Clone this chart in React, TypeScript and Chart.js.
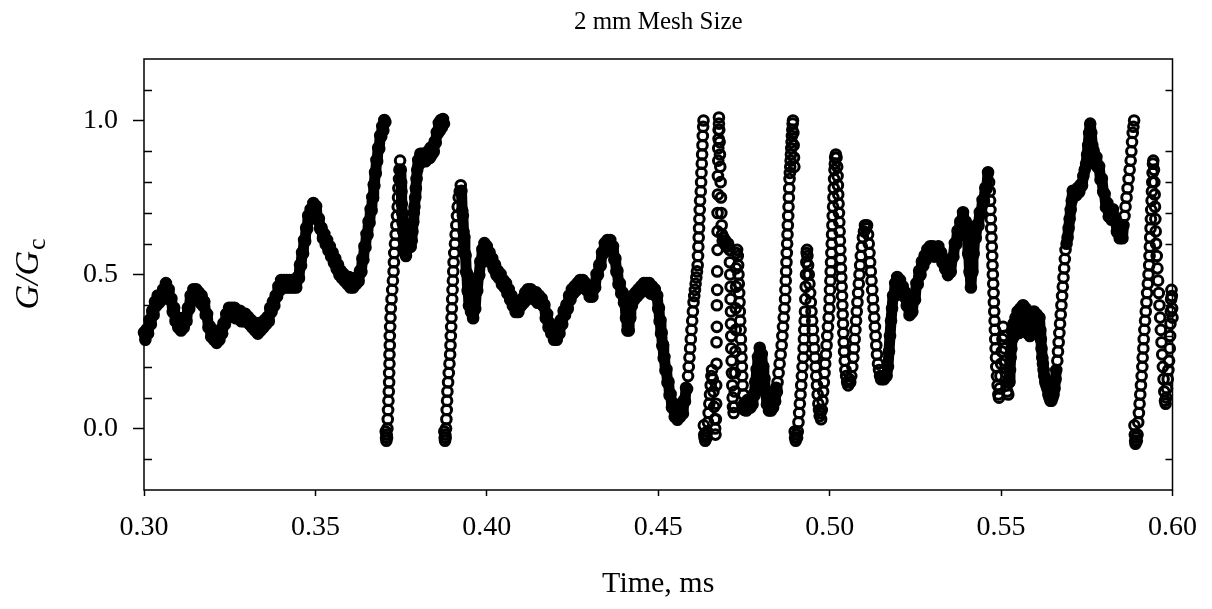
import React, { useEffect, useRef } from "react";
import { Chart, registerables } from "chart.js";

Chart.register(...registerables);

type Pt = [number, number];

// Time (ms) vs G/Gc, segment by segment (noisy bands)
const BAND_A: Pt[] = [[0.3000,0.312],[0.3004,0.288],[0.3008,0.322],[0.3012,0.308],[0.3016,0.352],[0.3020,0.338],[0.3024,0.382],[0.3028,0.368],[0.3032,0.412],[0.3036,0.398],[0.3040,0.432],[0.3044,0.408],[0.3048,0.432],[0.3052,0.418],[0.3056,0.452],[0.3060,0.438],[0.3064,0.472],[0.3068,0.438],[0.3072,0.452],[0.3076,0.418],[0.3080,0.422],[0.3084,0.378],[0.3088,0.392],[0.3092,0.348],[0.3096,0.362],[0.3100,0.328],[0.3104,0.342],[0.3108,0.318],[0.3112,0.352],[0.3116,0.328],[0.3120,0.362],[0.3124,0.348],[0.3128,0.392],[0.3132,0.388],[0.3136,0.432],[0.3140,0.418],[0.3144,0.452],[0.3148,0.428],[0.3152,0.452],[0.3156,0.418],[0.3160,0.442],[0.3164,0.408],[0.3168,0.432],[0.3172,0.398],[0.3176,0.412],[0.3180,0.368],[0.3184,0.372],[0.3188,0.328],[0.3192,0.332],[0.3196,0.298],[0.3200,0.312],[0.3204,0.288],[0.3208,0.312],[0.3212,0.278],[0.3216,0.312],[0.3220,0.288],[0.3224,0.322],[0.3228,0.308],[0.3232,0.342],[0.3236,0.338],[0.3240,0.372],[0.3244,0.358],[0.3248,0.392],[0.3252,0.368],[0.3256,0.392],[0.3260,0.368],[0.3264,0.392],[0.3268,0.358],[0.3272,0.382],[0.3276,0.358],[0.3280,0.382],[0.3284,0.348],[0.3288,0.372],[0.3292,0.348],[0.3296,0.372],[0.3300,0.348],[0.3304,0.362],[0.3308,0.338],[0.3312,0.352],[0.3316,0.328],[0.3320,0.342],[0.3324,0.318],[0.3328,0.342],[0.3332,0.308],[0.3336,0.342],[0.3340,0.318],[0.3344,0.342],[0.3348,0.328],[0.3352,0.352],[0.3356,0.338],[0.3360,0.362],[0.3364,0.348],[0.3368,0.392],[0.3372,0.378],[0.3376,0.412],[0.3380,0.398],[0.3384,0.432],[0.3388,0.428],[0.3392,0.462],[0.3396,0.448],[0.3400,0.482],[0.3404,0.458],[0.3408,0.482],[0.3412,0.458],[0.3416,0.482],[0.3420,0.458],[0.3424,0.482],[0.3428,0.458],[0.3432,0.482],[0.3436,0.458],[0.3440,0.482],[0.3444,0.458],[0.3448,0.492],[0.3452,0.488],[0.3455,0.532],[0.3458,0.528],[0.3461,0.572],[0.3464,0.568],[0.3467,0.612],[0.3470,0.608],[0.3473,0.652],[0.3476,0.648],[0.3479,0.692],[0.3482,0.678],[0.3486,0.712],[0.3490,0.698],[0.3494,0.732],[0.3498,0.708],[0.3502,0.722],[0.3506,0.678],[0.3510,0.682],[0.3514,0.648],[0.3518,0.652],[0.3522,0.618],[0.3526,0.632],[0.3530,0.598],[0.3534,0.612],[0.3538,0.578],[0.3542,0.592],[0.3546,0.558],[0.3550,0.572],[0.3554,0.538],[0.3558,0.552],[0.3562,0.518],[0.3566,0.532],[0.3570,0.498],[0.3574,0.512],[0.3578,0.488],[0.3582,0.502],[0.3586,0.478],[0.3590,0.492],[0.3594,0.468],[0.3598,0.492],[0.3602,0.458],[0.3606,0.482],[0.3610,0.458],[0.3614,0.482],[0.3618,0.468],[0.3622,0.492],[0.3626,0.478],[0.3630,0.512],[0.3634,0.508],[0.3637,0.552],[0.3640,0.548],[0.3643,0.592],[0.3646,0.588],[0.3649,0.632],[0.3652,0.628],[0.3655,0.672],[0.3658,0.668],[0.3661,0.712],[0.3664,0.708],[0.3666,0.752],[0.3668,0.748],[0.3670,0.792],[0.3672,0.788],[0.3674,0.832],[0.3676,0.828],[0.3678,0.872],[0.3680,0.868],[0.3683,0.912],[0.3686,0.908],[0.3689,0.952],[0.3692,0.948],[0.3695,0.982],[0.3698,0.968],[0.3701,1.002],[0.3704,0.995]];

const RISE_1: Pt[] = [[0.3705,-0.01],[0.3706,-0.03],[0.3707,-0.04],[0.3708,-0.02],[0.3709,-0.03],[0.3710,0.00],[0.3711,0.03],[0.3712,0.06],[0.3713,0.09],[0.3714,0.12],[0.3715,0.15],[0.3715,0.18],[0.3716,0.21],[0.3716,0.24],[0.3717,0.27],[0.3717,0.30],[0.3718,0.33],[0.3719,0.36],[0.3720,0.39],[0.3722,0.42],[0.3724,0.45],[0.3726,0.48],[0.3728,0.51],[0.3729,0.54],[0.3730,0.57],[0.3732,0.60],[0.3734,0.63],[0.3736,0.66],[0.3738,0.69],[0.3740,0.72],[0.3741,0.75],[0.3742,0.78],[0.3744,0.81],[0.3745,0.84],[0.3747,0.87]];

const CLUSTER_1: Pt[] = [[0.3749,0.84],[0.3750,0.80],[0.3751,0.77],[0.3752,0.73],[0.3753,0.70],[0.3754,0.67],[0.3756,0.64],[0.3758,0.61],[0.3760,0.59],[0.3762,0.57],[0.3764,0.56],[0.3766,0.58],[0.3768,0.60],[0.3770,0.62],[0.3772,0.63],[0.3775,0.61],[0.3778,0.59],[0.3781,0.61],[0.3783,0.64],[0.3785,0.67],[0.3787,0.70],[0.3789,0.72],[0.3791,0.75],[0.3793,0.78],[0.3795,0.81],[0.3797,0.84],[0.3800,0.872],[0.3803,0.858],[0.3806,0.892],[0.3809,0.868],[0.3812,0.892],[0.3815,0.878],[0.3818,0.892],[0.3821,0.868],[0.3824,0.892],[0.3827,0.878],[0.3830,0.902],[0.3833,0.878],[0.3836,0.912],[0.3839,0.888],[0.3842,0.912],[0.3845,0.898],[0.3848,0.932],[0.3851,0.928],[0.3854,0.962],[0.3857,0.958],[0.3860,0.992],[0.3863,0.968],[0.3866,1.002],[0.3869,0.978],[0.3872,1.005],[0.3875,0.99]];

const RISE_2: Pt[] = [[0.3876,-0.01],[0.3877,-0.03],[0.3878,-0.04],[0.3879,-0.02],[0.3880,-0.03],[0.3881,0.00],[0.3882,0.03],[0.3883,0.06],[0.3884,0.09],[0.3885,0.12],[0.3887,0.15],[0.3889,0.18],[0.3891,0.21],[0.3893,0.24],[0.3894,0.27],[0.3895,0.30],[0.3896,0.33],[0.3897,0.36],[0.3898,0.39],[0.3899,0.42],[0.3900,0.45],[0.3901,0.48],[0.3902,0.51],[0.3903,0.54],[0.3905,0.57],[0.3907,0.60],[0.3909,0.63],[0.3911,0.66],[0.3913,0.69],[0.3915,0.72],[0.3918,0.75],[0.3921,0.77],[0.3924,0.79]];

const BAND_B: Pt[] = [[0.3926,0.772],[0.3928,0.708],[0.3930,0.692],[0.3932,0.638],[0.3934,0.622],[0.3936,0.568],[0.3938,0.562],[0.3940,0.508],[0.3942,0.502],[0.3944,0.448],[0.3946,0.442],[0.3948,0.398],[0.3951,0.412],[0.3954,0.378],[0.3957,0.392],[0.3960,0.358],[0.3963,0.392],[0.3966,0.388],[0.3969,0.442],[0.3972,0.448],[0.3975,0.492],[0.3978,0.498],[0.3981,0.542],[0.3984,0.538],[0.3987,0.582],[0.3990,0.578],[0.3993,0.602],[0.3996,0.578],[0.4000,0.592],[0.4004,0.558],[0.4008,0.572],[0.4012,0.538],[0.4016,0.552],[0.4020,0.518],[0.4024,0.532],[0.4028,0.498],[0.4032,0.512],[0.4036,0.488],[0.4040,0.502],[0.4044,0.468],[0.4048,0.482],[0.4052,0.458],[0.4056,0.472],[0.4060,0.438],[0.4064,0.452],[0.4068,0.418],[0.4072,0.432],[0.4076,0.398],[0.4080,0.412],[0.4084,0.378],[0.4088,0.402],[0.4092,0.378],[0.4096,0.412],[0.4100,0.398],[0.4104,0.422],[0.4108,0.408],[0.4112,0.442],[0.4116,0.418],[0.4120,0.452],[0.4124,0.428],[0.4128,0.452],[0.4132,0.428],[0.4136,0.442],[0.4140,0.418],[0.4144,0.442],[0.4148,0.408],[0.4152,0.432],[0.4156,0.408],[0.4160,0.422],[0.4164,0.398],[0.4168,0.402],[0.4172,0.358],[0.4176,0.372],[0.4180,0.328],[0.4184,0.342],[0.4188,0.308],[0.4192,0.322],[0.4196,0.288],[0.4200,0.312],[0.4204,0.288],[0.4208,0.322],[0.4212,0.308],[0.4216,0.352],[0.4220,0.338],[0.4224,0.382],[0.4228,0.368],[0.4232,0.402],[0.4236,0.388],[0.4240,0.432],[0.4244,0.418],[0.4248,0.452],[0.4252,0.438],[0.4256,0.462],[0.4260,0.448],[0.4264,0.472],[0.4268,0.458],[0.4272,0.482],[0.4276,0.458],[0.4280,0.482],[0.4284,0.458],[0.4288,0.472],[0.4292,0.448],[0.4296,0.462],[0.4300,0.428],[0.4304,0.452],[0.4308,0.428],[0.4312,0.462],[0.4316,0.458],[0.4320,0.502],[0.4324,0.498],[0.4328,0.532],[0.4332,0.528],[0.4336,0.572],[0.4340,0.568],[0.4344,0.602],[0.4348,0.588],[0.4352,0.612],[0.4356,0.588],[0.4360,0.612],[0.4364,0.578],[0.4368,0.592],[0.4372,0.548],[0.4375,0.552],[0.4378,0.508],[0.4381,0.512],[0.4384,0.468],[0.4388,0.472],[0.4392,0.438],[0.4396,0.442],[0.4400,0.408],[0.4403,0.412],[0.4406,0.358],[0.4408,0.362],[0.4410,0.318],[0.4412,0.332],[0.4414,0.318],[0.4416,0.362],[0.4418,0.358],[0.4420,0.402],[0.4423,0.398],[0.4426,0.432],[0.4430,0.418],[0.4434,0.442],[0.4438,0.428],[0.4442,0.452],[0.4446,0.438],[0.4450,0.462],[0.4454,0.448],[0.4458,0.472],[0.4462,0.448],[0.4466,0.472],[0.4470,0.448],[0.4474,0.472],[0.4478,0.438],[0.4482,0.462],[0.4486,0.438],[0.4490,0.452],[0.4494,0.428],[0.4497,0.432],[0.4500,0.388],[0.4502,0.392],[0.4504,0.348],[0.4506,0.352],[0.4508,0.308],[0.4510,0.312],[0.4512,0.268],[0.4514,0.272],[0.4516,0.228],[0.4518,0.232],[0.4521,0.188],[0.4524,0.192],[0.4527,0.148],[0.4530,0.152],[0.4533,0.108],[0.4536,0.112],[0.4540,0.068],[0.4544,0.082],[0.4548,0.038],[0.4552,0.062],[0.4556,0.028],[0.4560,0.052],[0.4564,0.038],[0.4568,0.062],[0.4572,0.048],[0.4575,0.092],[0.4578,0.088],[0.4581,0.132],[0.4584,0.128]];

const RISE_3: Pt[] = [[0.4587,0.17],[0.4589,0.20],[0.4591,0.23],[0.4593,0.26],[0.4595,0.29],[0.4597,0.32],[0.4599,0.35],[0.4601,0.38],[0.4603,0.41],[0.4605,0.43],[0.4607,0.45],[0.4609,0.47],[0.4611,0.49],[0.4613,0.51],[0.4615,0.53],[0.4616,0.56],[0.4617,0.59],[0.4618,0.62],[0.4619,0.65],[0.4620,0.68],[0.4621,0.71],[0.4622,0.74],[0.4624,0.77],[0.4625,0.80],[0.4626,0.83],[0.4627,0.86],[0.4628,0.89],[0.4629,0.92],[0.4630,0.95],[0.4631,0.98],[0.4632,1.00]];

const DIP_RISE_4: Pt[] = [[0.4633,0.01],[0.4634,-0.02],[0.4635,-0.03],[0.4637,-0.04],[0.4639,-0.02],[0.4641,-0.03],[0.4643,-0.01],[0.4645,0.02],[0.4647,0.05],[0.4649,0.08],[0.4651,0.11],[0.4653,0.14],[0.4655,0.17],[0.4657,0.19],[0.4659,0.16],[0.4661,0.12],[0.4663,0.07],[0.4665,0.03],[0.4666,0.00],[0.4667,-0.02],[0.4668,0.03],[0.4669,0.08],[0.4669,0.14],[0.4670,0.21],[0.4670,0.28],[0.4671,0.33],[0.4671,0.40],[0.4672,0.45],[0.4672,0.51],[0.4673,0.58],[0.4673,0.64],[0.4673,0.70],[0.4674,0.76],[0.4674,0.82],[0.4675,0.87],[0.4675,0.91],[0.4676,0.94],[0.4676,0.97],[0.4677,0.99],[0.4677,1.01]];

const DROP_5: Pt[] = [[0.4678,0.97],[0.4679,0.93],[0.4680,0.89],[0.4681,0.85],[0.4682,0.80],[0.4683,0.75],[0.4684,0.70],[0.4685,0.66],[0.4686,0.63],[0.4688,0.61],[0.4690,0.62],[0.4693,0.60],[0.4696,0.61],[0.4700,0.59],[0.4704,0.60],[0.4708,0.58],[0.4709,0.54],[0.4710,0.50],[0.4711,0.46],[0.4711,0.42],[0.4712,0.38],[0.4712,0.34],[0.4713,0.30],[0.4713,0.26],[0.4714,0.22],[0.4715,0.18],[0.4716,0.14],[0.4717,0.10],[0.4718,0.07],[0.4720,0.05],[0.4722,0.07],[0.4723,0.12],[0.4724,0.18],[0.4725,0.25],[0.4726,0.32],[0.4726,0.39],[0.4727,0.46],[0.4727,0.52],[0.4728,0.57],[0.4730,0.58],[0.4732,0.56],[0.4733,0.53],[0.4734,0.50],[0.4735,0.47],[0.4736,0.44],[0.4737,0.41],[0.4738,0.38],[0.4739,0.35],[0.4740,0.32],[0.4741,0.29],[0.4742,0.26],[0.4743,0.23],[0.4744,0.20],[0.4745,0.17],[0.4746,0.14],[0.4748,0.11],[0.4750,0.08],[0.4752,0.06]];

const BAND_E: Pt[] = [[0.4754,0.082],[0.4757,0.058],[0.4760,0.092],[0.4763,0.068],[0.4766,0.092],[0.4769,0.068],[0.4772,0.092],[0.4775,0.078],[0.4778,0.112],[0.4781,0.108],[0.4783,0.152],[0.4785,0.148],[0.4787,0.192],[0.4789,0.188],[0.4791,0.232],[0.4793,0.228],[0.4796,0.262],[0.4799,0.238],[0.4802,0.242],[0.4804,0.198],[0.4806,0.202],[0.4808,0.158],[0.4810,0.162],[0.4812,0.118],[0.4814,0.122],[0.4817,0.078],[0.4820,0.092],[0.4823,0.058],[0.4826,0.082],[0.4829,0.058],[0.4832,0.092],[0.4835,0.068],[0.4838,0.102],[0.4841,0.088],[0.4844,0.132],[0.4846,0.118]];

const RISE_6: Pt[] = [[0.4848,0.15],[0.4851,0.18],[0.4854,0.21],[0.4857,0.24],[0.4860,0.27],[0.4862,0.30],[0.4864,0.33],[0.4866,0.36],[0.4868,0.39],[0.4870,0.42],[0.4871,0.45],[0.4872,0.48],[0.4873,0.51],[0.4874,0.54],[0.4875,0.57],[0.4876,0.60],[0.4877,0.63],[0.4878,0.66],[0.4879,0.69],[0.4880,0.72],[0.4881,0.75],[0.4882,0.78],[0.4883,0.81],[0.4884,0.83],[0.4885,0.85],[0.4886,0.87],[0.4887,0.89],[0.4888,0.91],[0.4889,0.93],[0.4890,0.95],[0.4891,0.97],[0.4892,0.99],[0.4893,1.00],[0.4894,0.96],[0.4895,0.92],[0.4896,0.88],[0.4897,0.85]];

const SPIKE_7_8: Pt[] = [[0.4898,-0.01],[0.4899,-0.03],[0.4901,-0.04],[0.4903,-0.02],[0.4905,-0.03],[0.4907,-0.01],[0.4909,0.02],[0.4911,0.05],[0.4913,0.08],[0.4915,0.11],[0.4917,0.14],[0.4919,0.17],[0.4921,0.20],[0.4923,0.23],[0.4924,0.26],[0.4925,0.29],[0.4926,0.32],[0.4927,0.35],[0.4928,0.38],[0.4929,0.42],[0.4930,0.46],[0.4931,0.50],[0.4932,0.54],[0.4933,0.57],[0.4934,0.58],[0.4935,0.56],[0.4937,0.53],[0.4939,0.50],[0.4941,0.47],[0.4943,0.44],[0.4945,0.41],[0.4947,0.38],[0.4949,0.35],[0.4951,0.32],[0.4953,0.29],[0.4955,0.26],[0.4957,0.23],[0.4959,0.20],[0.4961,0.17],[0.4963,0.14],[0.4965,0.11],[0.4967,0.08],[0.4969,0.06],[0.4971,0.04],[0.4973,0.05],[0.4975,0.03]];

const SPIKE_9_10: Pt[] = [[0.4977,0.06],[0.4979,0.09],[0.4981,0.12],[0.4983,0.15],[0.4985,0.18],[0.4987,0.21],[0.4989,0.24],[0.4991,0.27],[0.4993,0.30],[0.4995,0.33],[0.4997,0.36],[0.4999,0.39],[0.5000,0.42],[0.5001,0.45],[0.5002,0.48],[0.5003,0.51],[0.5004,0.54],[0.5005,0.57],[0.5006,0.60],[0.5007,0.63],[0.5008,0.66],[0.5009,0.69],[0.5010,0.72],[0.5011,0.75],[0.5012,0.78],[0.5013,0.81],[0.5014,0.84],[0.5015,0.86],[0.5016,0.88],[0.5018,0.89],[0.5020,0.88],[0.5022,0.85],[0.5023,0.82],[0.5024,0.79],[0.5025,0.76],[0.5026,0.73],[0.5027,0.70],[0.5028,0.67],[0.5029,0.64],[0.5030,0.61],[0.5031,0.58],[0.5032,0.55],[0.5033,0.52],[0.5034,0.49],[0.5035,0.46],[0.5036,0.43],[0.5037,0.40],[0.5038,0.37],[0.5039,0.34],[0.5040,0.31],[0.5041,0.28],[0.5042,0.25],[0.5044,0.22],[0.5046,0.19],[0.5048,0.17],[0.5051,0.15],[0.5054,0.14],[0.5057,0.16],[0.5060,0.15]];

const SPIKE_11_12: Pt[] = [[0.5063,0.17],[0.5066,0.20],[0.5069,0.23],[0.5071,0.26],[0.5073,0.29],[0.5075,0.32],[0.5077,0.35],[0.5079,0.38],[0.5081,0.41],[0.5083,0.44],[0.5085,0.47],[0.5087,0.50],[0.5089,0.53],[0.5091,0.56],[0.5094,0.59],[0.5097,0.62],[0.5100,0.64],[0.5103,0.66],[0.5106,0.65],[0.5109,0.66],[0.5112,0.63],[0.5114,0.60],[0.5116,0.57],[0.5118,0.54],[0.5120,0.51],[0.5122,0.48],[0.5124,0.45],[0.5126,0.42],[0.5128,0.39],[0.5130,0.36],[0.5132,0.33],[0.5134,0.30],[0.5136,0.27],[0.5138,0.24],[0.5141,0.21],[0.5144,0.19],[0.5147,0.17]];

const BOTTOM_12: Pt[] = [[0.5150,0.16],[0.5154,0.17],[0.5158,0.16],[0.5162,0.17],[0.5166,0.17],[0.5170,0.20],[0.5173,0.25],[0.5176,0.30],[0.5179,0.35],[0.5182,0.39]];

const BAND_C: Pt[] = [[0.5185,0.432],[0.5188,0.428],[0.5191,0.472],[0.5194,0.458],[0.5197,0.492],[0.5201,0.468],[0.5205,0.482],[0.5209,0.448],[0.5213,0.462],[0.5217,0.428],[0.5221,0.442],[0.5225,0.398],[0.5229,0.402],[0.5233,0.368],[0.5237,0.392],[0.5241,0.378],[0.5245,0.422],[0.5249,0.418],[0.5253,0.472],[0.5257,0.468],[0.5261,0.512],[0.5265,0.498],[0.5269,0.542],[0.5273,0.528],[0.5277,0.562],[0.5281,0.548],[0.5285,0.582],[0.5289,0.568],[0.5293,0.592],[0.5297,0.568],[0.5301,0.592],[0.5305,0.558],[0.5309,0.582],[0.5313,0.568],[0.5317,0.592],[0.5321,0.558],[0.5325,0.572],[0.5329,0.538],[0.5333,0.552],[0.5337,0.518],[0.5341,0.532],[0.5345,0.498],[0.5349,0.522],[0.5353,0.508],[0.5357,0.552],[0.5361,0.558],[0.5365,0.602],[0.5369,0.598],[0.5373,0.642],[0.5377,0.638],[0.5381,0.672],[0.5385,0.668],[0.5389,0.702],[0.5393,0.668],[0.5397,0.672],[0.5400,0.628],[0.5402,0.622],[0.5404,0.568],[0.5406,0.562],[0.5408,0.508],[0.5410,0.502],[0.5412,0.458],[0.5414,0.502],[0.5416,0.508],[0.5418,0.562],[0.5420,0.568],[0.5423,0.622],[0.5426,0.618],[0.5430,0.662],[0.5434,0.658],[0.5438,0.702],[0.5442,0.698],[0.5446,0.742],[0.5450,0.738],[0.5454,0.782],[0.5458,0.778],[0.5462,0.832]];

const DROP_13: Pt[] = [[0.5465,0.80],[0.5467,0.77],[0.5468,0.74],[0.5469,0.71],[0.5470,0.68],[0.5471,0.65],[0.5472,0.62],[0.5473,0.59],[0.5474,0.56],[0.5475,0.53],[0.5476,0.50],[0.5477,0.47],[0.5478,0.44],[0.5479,0.41],[0.5480,0.38],[0.5481,0.35],[0.5482,0.32],[0.5483,0.29],[0.5484,0.26],[0.5485,0.23],[0.5486,0.20],[0.5488,0.17],[0.5490,0.14],[0.5492,0.11],[0.5494,0.10],[0.5496,0.13],[0.5498,0.17],[0.5500,0.21],[0.5502,0.25],[0.5504,0.29],[0.5506,0.33],[0.5508,0.30],[0.5510,0.26],[0.5512,0.22],[0.5514,0.18],[0.5516,0.14],[0.5518,0.12],[0.5521,0.11]];

const BAND_D: Pt[] = [[0.5524,0.15],[0.5526,0.19],[0.5528,0.23],[0.5530,0.26],[0.5532,0.29],[0.5534,0.31],[0.5536,0.34],[0.5538,0.30],[0.5540,0.33],[0.5542,0.36],[0.5544,0.32],[0.5546,0.35],[0.5548,0.38],[0.5550,0.34],[0.5552,0.31],[0.5554,0.35],[0.5556,0.39],[0.5558,0.36],[0.5560,0.32],[0.5562,0.36],[0.5564,0.40],[0.5566,0.37],[0.5568,0.33],[0.5570,0.36],[0.5572,0.39],[0.5574,0.35],[0.5576,0.31],[0.5578,0.34],[0.5580,0.37],[0.5582,0.33],[0.5584,0.30],[0.5586,0.34],[0.5588,0.37],[0.5590,0.33],[0.5592,0.31],[0.5594,0.35],[0.5596,0.38],[0.5598,0.34],[0.5600,0.31],[0.5602,0.35],[0.5604,0.37],[0.5606,0.33],[0.5608,0.31],[0.5610,0.34],[0.5612,0.36],[0.5614,0.32],[0.5616,0.29],[0.5618,0.26],[0.5620,0.23],[0.5622,0.21],[0.5624,0.19],[0.5626,0.17],[0.5629,0.15],[0.5632,0.14],[0.5635,0.13],[0.5638,0.11],[0.5641,0.10],[0.5644,0.09],[0.5647,0.09],[0.5650,0.10],[0.5653,0.11],[0.5656,0.13],[0.5659,0.16],[0.5661,0.19]];

const RISE_15: Pt[] = [[0.5664,0.22],[0.5666,0.25],[0.5668,0.28],[0.5670,0.31],[0.5672,0.34],[0.5674,0.37],[0.5676,0.40],[0.5678,0.43],[0.5680,0.46],[0.5682,0.49],[0.5684,0.52],[0.5686,0.55],[0.5688,0.58]];

const PLATEAU_15: Pt[] = [[0.5691,0.60],[0.5694,0.62],[0.5697,0.65],[0.5700,0.68],[0.5703,0.71],[0.5706,0.74],[0.5709,0.772],[0.5712,0.758],[0.5716,0.772],[0.5720,0.758],[0.5724,0.782],[0.5728,0.768],[0.5732,0.792],[0.5736,0.788],[0.5740,0.82],[0.5744,0.84],[0.5748,0.86],[0.5751,0.89],[0.5754,0.92],[0.5757,0.96],[0.5760,0.99],[0.5763,0.96],[0.5766,0.92],[0.5770,0.902],[0.5774,0.858],[0.5778,0.882],[0.5782,0.848],[0.5786,0.852],[0.5790,0.808],[0.5794,0.812],[0.5798,0.768],[0.5802,0.762],[0.5806,0.718],[0.5810,0.732],[0.5814,0.688],[0.5818,0.702],[0.5822,0.678],[0.5826,0.712],[0.5830,0.678],[0.5834,0.682],[0.5838,0.638],[0.5842,0.652],[0.5846,0.618],[0.5850,0.632],[0.5854,0.618],[0.5857,0.66]];

const RISE_16: Pt[] = [[0.5860,0.69],[0.5863,0.72],[0.5866,0.75],[0.5869,0.78],[0.5872,0.81],[0.5875,0.84],[0.5878,0.87],[0.5880,0.90],[0.5882,0.93],[0.5884,0.96],[0.5886,0.98],[0.5888,1.00]];

const RISE_17: Pt[] = [[0.5889,0.01],[0.5890,-0.02],[0.5891,-0.04],[0.5892,-0.05],[0.5894,-0.03],[0.5896,-0.04],[0.5898,-0.02],[0.5900,0.02],[0.5902,0.05],[0.5904,0.08],[0.5906,0.11],[0.5908,0.14],[0.5910,0.17],[0.5912,0.20],[0.5913,0.23],[0.5915,0.26],[0.5916,0.29],[0.5918,0.32],[0.5920,0.35],[0.5922,0.38],[0.5924,0.41],[0.5926,0.44],[0.5928,0.47],[0.5930,0.50],[0.5932,0.53],[0.5933,0.56],[0.5934,0.59],[0.5935,0.62],[0.5936,0.65],[0.5937,0.68],[0.5938,0.71],[0.5939,0.74],[0.5940,0.77],[0.5941,0.80],[0.5942,0.83],[0.5943,0.86],[0.5944,0.87]];

const END_18: Pt[] = [[0.5946,0.84],[0.5947,0.80],[0.5948,0.76],[0.5949,0.72],[0.5950,0.68],[0.5951,0.64],[0.5952,0.60],[0.5954,0.56],[0.5956,0.52],[0.5958,0.48],[0.5960,0.44],[0.5962,0.40],[0.5964,0.36],[0.5966,0.32],[0.5968,0.28],[0.5970,0.24],[0.5972,0.20],[0.5974,0.16],[0.5976,0.12],[0.5978,0.09],[0.5980,0.08],[0.5982,0.10],[0.5984,0.13],[0.5986,0.16],[0.5988,0.19],[0.5990,0.22],[0.5992,0.26],[0.5993,0.30],[0.5994,0.34],[0.5995,0.38],[0.5996,0.42],[0.5997,0.45],[0.5998,0.43],[0.5999,0.39],[0.6000,0.36]];

const X_TICKS = [0.30, 0.35, 0.40, 0.45, 0.50, 0.55, 0.60];
const Y_TICKS = [0.0, 0.5, 1.0];
const Y_MINOR = [-0.1, 0.1, 0.2, 0.3, 0.4, 0.6, 0.7, 0.8, 0.9, 1.1];

const TITLE = "2 mm Mesh Size";
const X_TITLE = "Time, ms";
const FONT = "'Liberation Serif', 'Times New Roman', serif";

const SEGMENTS: Pt[][] = [BAND_A, RISE_1, CLUSTER_1, RISE_2, BAND_B, RISE_3, DIP_RISE_4, DROP_5, BAND_E, RISE_6, SPIKE_7_8, SPIKE_9_10, SPIKE_11_12, BOTTOM_12, BAND_C, DROP_13, BAND_D, RISE_15, PLATEAU_15, RISE_16, RISE_17, END_18];
// stretches where the overlapping circles merge into a solid black band
const SOLID_SEGMENTS: Pt[][] = [BAND_A, CLUSTER_1, BAND_B, BAND_E, BOTTOM_12, BAND_C, BAND_D, PLATEAU_15];

const frameTicks = {
  id: "frameTicks",
  afterDraw(chart: any) {
    const { ctx, chartArea, scales } = chart;
    const { left, right, top, bottom } = chartArea;
    const y = scales.y;
    ctx.save();
    ctx.strokeStyle = "#000";
    ctx.lineWidth = 1.5;
    ctx.strokeRect(left, top, right - left, bottom - top);
    ctx.beginPath();
    for (const v of Y_MINOR) {
      const py = Math.round(y.getPixelForValue(v)) + 0.5;
      ctx.moveTo(left, py);
      ctx.lineTo(left + 8, py);
      ctx.moveTo(right, py);
      ctx.lineTo(right - 7, py);
    }
    ctx.stroke();
    ctx.restore();
  },
};

const yTitle = {
  id: "yTitle",
  afterDraw(chart: any) {
    const { ctx, chartArea } = chart;
    const cy = (chartArea.top + chartArea.bottom) / 2;
    ctx.save();
    ctx.fillStyle = "#000";
    ctx.translate(38, cy);
    ctx.rotate(-Math.PI / 2);
    ctx.textBaseline = "alphabetic";
    ctx.textAlign = "left";
    const mainFont = `italic 34px ${FONT}`;
    const subFont = `26px ${FONT}`;
    ctx.font = mainFont;
    const w1 = ctx.measureText("G/G").width;
    ctx.font = subFont;
    const w2 = ctx.measureText("c").width;
    const x0 = -(w1 + w2) / 2;
    ctx.font = mainFont;
    ctx.fillText("G/G", x0, 0);
    ctx.font = subFont;
    ctx.fillText("c", x0 + w1 + 1, 6.5);
    ctx.restore();
  },
};

export default function App() {
  const ref = useRef<HTMLCanvasElement | null>(null);

  useEffect(() => {
    document.body.style.margin = "0";
    const canvas = ref.current;
    if (!canvas) return;
    const points: { x: number; y: number }[] = [];
    const solid = new Set<number>();
    for (const seg of SEGMENTS) {
      const isSolid = SOLID_SEGMENTS.includes(seg);
      for (const [t, g] of seg) {
        if (isSolid) solid.add(points.length);
        points.push({ x: t, y: g });
      }
    }
    const chart = new Chart(canvas, {
      type: "scatter",
      data: {
        datasets: [
          {
            data: points,
            pointStyle: "circle",
            pointRadius: 4.8,
            pointBorderWidth: 3,
            pointHoverRadius: 4.8,
            pointBorderColor: "#000",
            pointBackgroundColor: "rgba(0,0,0,0)",
            borderColor: "#000",
            backgroundColor: "rgba(0,0,0,0)",
            showLine: true,
            borderWidth: 11,
            borderJoinStyle: "round",
            borderCapStyle: "round",
            tension: 0,
            fill: false,
            segment: {
              borderColor: (c: any) =>
                solid.has(c.p0DataIndex) && solid.has(c.p1DataIndex) ? "#000" : "rgba(0,0,0,0)",
            },
            clip: false,
          } as any,
        ],
      },
      options: {
        animation: false,
        responsive: false,
        devicePixelRatio: 1,
        events: [],
        layout: { padding: { left: 0, right: 30, top: 0, bottom: 0 } },
        plugins: {
          legend: { display: false },
          tooltip: { enabled: false },
          title: {
            display: true,
            text: TITLE,
            fullSize: false,
            color: "#000",
            font: { family: FONT, size: 25, weight: "normal" },
            padding: { top: 7, bottom: 22 },
          },
        },
        scales: {
          x: {
            type: "linear",
            min: 0.3,
            max: 0.6,
            afterBuildTicks: (s: any) => {
              s.ticks = X_TICKS.map((v) => ({ value: v }));
            },
            afterFit: (s: any) => {
              s.height = 119;
            },
            border: { display: false },
            grid: {
              display: true,
              drawOnChartArea: false,
              drawTicks: true,
              tickLength: 6,
              tickColor: "#000",
              tickWidth: 1.5,
            },
            ticks: {
              color: "#000",
              font: { family: FONT, size: 28 },
              padding: 15,
              maxRotation: 0,
              autoSkip: false,
              callback: (v: any) => Number(v).toFixed(2),
            },
            title: {
              display: true,
              text: X_TITLE,
              color: "#000",
              font: { family: FONT, size: 30 },
              padding: { top: 0, bottom: 7 },
            },
          },
          y: {
            type: "linear",
            min: -0.2,
            max: 1.2,
            afterBuildTicks: (s: any) => {
              s.ticks = Y_TICKS.map((v) => ({ value: v }));
            },
            afterFit: (s: any) => {
              s.width = 144;
            },
            border: { display: false },
            grid: {
              display: true,
              drawOnChartArea: false,
              drawTicks: true,
              tickLength: 11,
              tickColor: "#000",
              tickWidth: 1.5,
            },
            ticks: {
              color: "#000",
              font: { family: FONT, size: 28 },
              padding: 15,
              autoSkip: false,
              callback: (v: any) => Number(v).toFixed(1),
            },
          },
        },
      } as any,
      plugins: [frameTicks, yTitle],
    });
    return () => chart.destroy();
  }, []);

  return (
    <div style={{ width: 1212, height: 609, background: "#fff" }}>
      <canvas ref={ref} width={1212} height={609} style={{ display: "block" }} />
    </div>
  );
}
